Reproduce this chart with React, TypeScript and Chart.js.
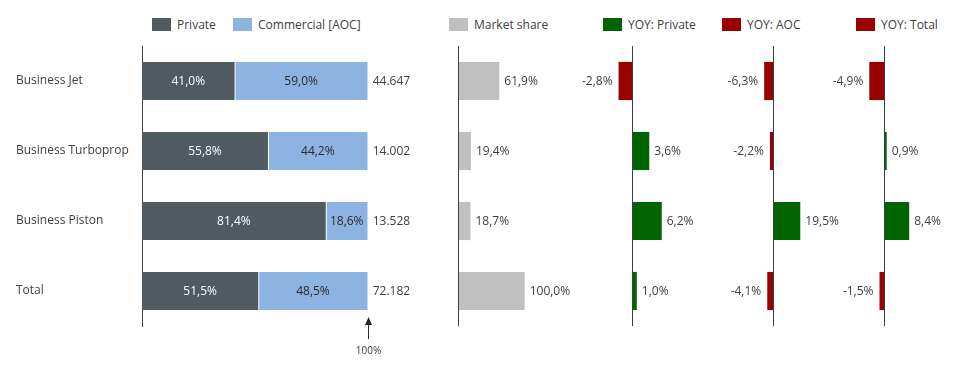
import React, { useEffect, useRef } from 'react';
import { Chart, registerables } from 'chart.js';

Chart.register(...registerables);

const categories = ['Business Jet', 'Business Turboprop', 'Business Piston', 'Total'];
const privateShare = [41.0, 55.8, 81.4, 51.5];
const commercialShare = [59.0, 44.2, 18.6, 48.5];
const totalLabels = ['44.647', '14.002', '13.528', '72.182'];
const marketShare = [61.9, 19.4, 18.7, 100.0];
const yoyPrivate = [-2.8, 3.6, 6.2, 1.0];
const yoyAoc = [-6.3, -2.2, 19.5, -4.1];
const yoyTotal = [-4.9, 0.9, 8.4, -1.5];

const FONT = "'Open Sans', sans-serif";
const TEXT = '#404040';
const AXIS = '#3a3f44';
const C_PRIVATE = '#4f5a61';
const C_AOC = '#8db3e2';
const C_SHARE = '#c0c0c0';
const C_POS = '#006400';
const C_NEG = '#990000';

const fmtPct = (v: number) => v.toFixed(1).replace('.', ',') + '%';

function ChartCanvas({ left, top, width, height, build }: any) {
  const ref = useRef<HTMLCanvasElement>(null);
  useEffect(() => {
    const chart = new Chart(ref.current as HTMLCanvasElement, build());
    return () => chart.destroy();
  }, []);
  return (
    <canvas
      ref={ref}
      width={width}
      height={height}
      style={{ position: 'absolute', left, top, width, height }}
    />
  );
}

function buildMain() {
  return {
    type: 'bar',
    data: {
      labels: categories,
      datasets: [
        {
          label: 'Private',
          data: privateShare,
          backgroundColor: C_PRIVATE,
          borderWidth: 0,
          barPercentage: 0.545,
          categoryPercentage: 1,
        },
        {
          label: 'Commercial [AOC]',
          data: commercialShare,
          backgroundColor: C_AOC,
          borderColor: '#ffffff',
          borderWidth: { left: 1, right: 0, top: 0, bottom: 0 },
          borderSkipped: false,
          barPercentage: 0.545,
          categoryPercentage: 1,
        },
      ],
    },
    options: {
      indexAxis: 'y',
      responsive: false,
      animation: false,
      layout: { padding: { top: 0, bottom: 41, left: 0, right: 0 } },
      plugins: { legend: { display: false }, tooltip: { enabled: false } },
      scales: {
        x: { stacked: true, min: 0, max: 140, display: false },
        y: {
          stacked: true,
          grid: { display: false },
          border: { display: true, color: AXIS, width: 1 },
          ticks: { crossAlign: 'far', color: TEXT, padding: 0, font: { family: FONT, size: 12 } },
          afterFit: (s: any) => {
            s.width = 126;
            s.paddingTop = 0;
            s.paddingBottom = 0;
          },
        },
      },
    },
    plugins: [
      {
        id: 'mainLabels',
        afterDatasetsDraw(chart: any) {
          const ctx = chart.ctx;
          const xs = chart.scales.x;
          ctx.save();
          ctx.font = `12px ${FONT}`;
          ctx.textBaseline = 'middle';
          chart.data.datasets.forEach((ds: any, di: number) => {
            const meta = chart.getDatasetMeta(di);
            meta.data.forEach((el: any, i: number) => {
              ctx.fillStyle = di === 0 ? '#ffffff' : '#2b2b2b';
              ctx.textAlign = 'center';
              ctx.fillText(fmtPct(ds.data[i]), (el.x + el.base) / 2, el.y + 1);
            });
          });
          const endX = xs.getPixelForValue(100);
          ctx.textAlign = 'left';
          ctx.fillStyle = TEXT;
          chart.getDatasetMeta(0).data.forEach((el: any, i: number) => {
            ctx.fillText(totalLabels[i], endX + 5, el.y + 1);
          });
          const b = chart.chartArea.bottom;
          const ax = Math.round(endX) + 0.5;
          ctx.strokeStyle = '#262626';
          ctx.lineWidth = 1;
          ctx.beginPath();
          ctx.moveTo(ax, b - 3);
          ctx.lineTo(ax, b + 13);
          ctx.stroke();
          ctx.fillStyle = '#262626';
          ctx.beginPath();
          ctx.moveTo(ax, b - 9);
          ctx.lineTo(ax - 3.5, b - 1);
          ctx.lineTo(ax + 3.5, b - 1);
          ctx.closePath();
          ctx.fill();
          ctx.font = `10px ${FONT}`;
          ctx.textAlign = 'center';
          ctx.fillStyle = TEXT;
          ctx.fillText('100%', ax, b + 25);
          ctx.restore();
        },
      },
    ],
  };
}

function buildPanel(values: number[], colorFor: (v: number) => string, min: number, max: number) {
  return () => ({
    type: 'bar',
    data: {
      labels: categories,
      datasets: [
        {
          data: values,
          backgroundColor: values.map(colorFor),
          borderWidth: 0,
          barPercentage: 0.545,
          categoryPercentage: 1,
        },
      ],
    },
    options: {
      indexAxis: 'y',
      responsive: false,
      animation: false,
      layout: { padding: 0 },
      plugins: { legend: { display: false }, tooltip: { enabled: false } },
      scales: {
        x: { min, max, display: false },
        y: { display: false },
      },
    },
    plugins: [
      {
        id: 'panelLabels',
        afterDatasetsDraw(chart: any) {
          const ctx = chart.ctx;
          const xs = chart.scales.x;
          const { top, bottom } = chart.chartArea;
          ctx.save();
          const zx = Math.round(xs.getPixelForValue(0)) + 0.5;
          ctx.strokeStyle = AXIS;
          ctx.lineWidth = 1;
          ctx.beginPath();
          ctx.moveTo(zx, top);
          ctx.lineTo(zx, bottom);
          ctx.stroke();
          ctx.font = `12px ${FONT}`;
          ctx.textBaseline = 'middle';
          ctx.fillStyle = TEXT;
          chart.getDatasetMeta(0).data.forEach((el: any, i: number) => {
            const v = values[i];
            if (v >= 0) {
              ctx.textAlign = 'left';
              ctx.fillText(fmtPct(v), el.x + 5, el.y + 1);
            } else {
              ctx.textAlign = 'right';
              ctx.fillText(fmtPct(v), el.x - 6, el.y + 1);
            }
          });
          ctx.restore();
        },
      },
    ],
  });
}

const yoyColor = (v: number) => (v >= 0 ? C_POS : C_NEG);

function LegendItem({ left, color, label }: any) {
  return (
    <div
      style={{
        position: 'absolute',
        left,
        top: 15,
        height: 18,
        display: 'flex',
        alignItems: 'center',
        fontFamily: FONT,
        fontSize: 12,
        color: TEXT,
        whiteSpace: 'nowrap',
      }}
    >
      <span style={{ display: 'inline-block', width: 19, height: 13, background: color, marginRight: 6 }} />
      <span>{label}</span>
    </div>
  );
}

export default function App() {
  return (
    <div style={{ position: 'absolute', left: 0, top: 0, width: 970, height: 367, background: '#ffffff', overflow: 'hidden' }}>
      <LegendItem left={152} color={C_PRIVATE} label="Private" />
      <LegendItem left={233} color={C_AOC} label="Commercial [AOC]" />
      <LegendItem left={449} color={C_SHARE} label="Market share" />
      <LegendItem left={603} color={C_POS} label="YOY: Private" />
      <LegendItem left={722} color={C_NEG} label="YOY: AOC" />
      <LegendItem left={856} color={C_NEG} label="YOY: Total" />
      <ChartCanvas left={16} top={46} width={442} height={321} build={buildMain} />
      <ChartCanvas left={458} top={46} width={120} height={280} build={buildPanel(marketShare, () => C_SHARE, 0, 180)} />
      <ChartCanvas left={572} top={46} width={132} height={280} build={buildPanel(yoyPrivate, yoyColor, -12.5, 15)} />
      <ChartCanvas left={717} top={46} width={140} height={280} build={buildPanel(yoyAoc, yoyColor, -40, 60)} />
      <ChartCanvas left={830} top={46} width={138} height={280} build={buildPanel(yoyTotal, yoyColor, -18, 28)} />
    </div>
  );
}
